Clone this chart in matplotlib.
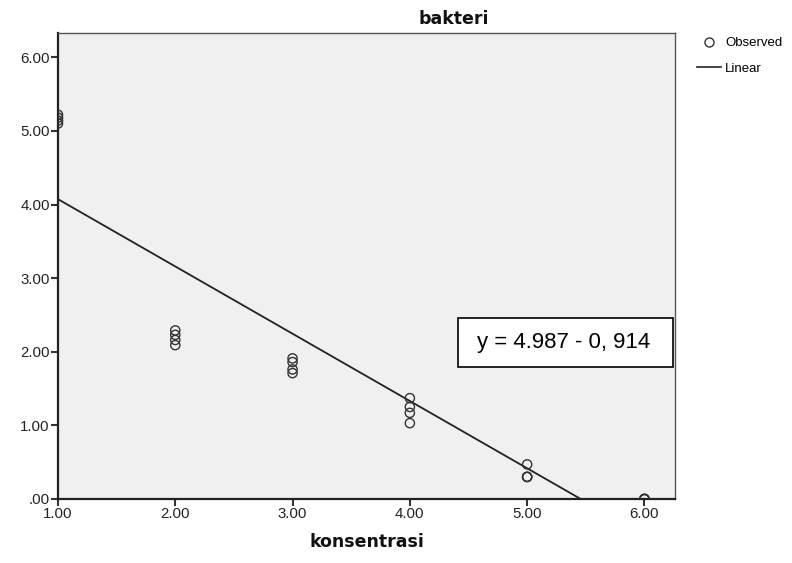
import numpy as np
import matplotlib
matplotlib.use("Agg")
import matplotlib.pyplot as plt
from matplotlib.lines import Line2D
from matplotlib.patches import Rectangle

konsentrasi = [1, 1, 1, 1, 2, 2, 2, 2, 3, 3, 3, 3, 4, 4, 4, 4, 5, 5, 5, 5, 6, 6, 6, 6]
bakteri = [5.22, 5.18, 5.14, 5.10,
           2.29, 2.23, 2.16, 2.09,
           1.91, 1.86, 1.76, 1.71,
           1.37, 1.25, 1.17, 1.03,
           0.47, 0.30, 0.30, 0.30,
           0.00, 0.00, 0.00, 0.00]

# linear fit
intercept = 4.987
slope = -0.914

x_ticks = [1, 2, 3, 4, 5, 6]
y_ticks = [0, 1, 2, 3, 4, 5, 6]
x_tick_labels = ["1.00", "2.00", "3.00", "4.00", "5.00", "6.00"]
y_tick_labels = [".00", "1.00", "2.00", "3.00", "4.00", "5.00", "6.00"]

EQ_TEXT = "y = 4.987 - 0, 914"

FONT = "Liberation Sans"
DARK = "#333333"


def main():
    fig = plt.figure(figsize=(7.92, 5.63), dpi=100)
    ax = fig.add_axes([0.0732, 0.1137, 0.779, 0.8277])
    ax.set_facecolor("#f0f0f0")

    ax.scatter(konsentrasi, bakteri, s=44, facecolors="none",
               edgecolors=DARK, linewidths=1.0, zorder=3)

    xs = np.array([1.0, 6.26])
    ax.plot(xs, intercept + slope * xs, color="#222222", lw=1.3, zorder=2)

    ax.set_xlim(1, 6.26)
    ax.set_ylim(0, 6.33)

    ax.set_xticks(x_ticks)
    ax.set_xticklabels(x_tick_labels, fontfamily=FONT, fontsize=10.8)
    ax.set_yticks(y_ticks)
    ax.set_yticklabels(y_tick_labels, fontfamily=FONT, fontsize=10.8)
    ax.tick_params(direction="out", length=5, width=1.5, color=DARK, pad=1,
                   labelcolor="#222222")

    for s in ax.spines.values():
        s.set_color("#555555")
        s.set_linewidth(1.0)
    for s in ("left", "bottom"):
        ax.spines[s].set_color("#222222")
        ax.spines[s].set_linewidth(1.6)

    # equation box
    ax.add_patch(Rectangle((4.407, 1.79), 1.84, 0.666, facecolor="white",
                           edgecolor="black", lw=1.2, zorder=4))
    ax.text(5.314, 2.123, EQ_TEXT, ha="center", va="center",
            fontfamily=FONT, fontsize=16, zorder=5)

    fig.text(0.573, 0.967, "bakteri", ha="center", va="center",
             fontweight="bold", fontsize=12.5, color="#111111")
    fig.text(0.463, 0.037, "konsentrasi", ha="center", va="center",
             fontweight="bold", fontsize=12.5, color="#111111")

    handles = [
        Line2D([], [], marker="o", ls="none", mfc="none", mec=DARK, ms=6.5, mew=1),
        Line2D([], [], color="#222222", lw=1.2),
    ]
    fig.legend(handles, ["Observed", "Linear"], loc="upper left",
               bbox_to_anchor=(0.872, 0.946), frameon=False,
               prop={"family": FONT, "size": 9.5}, handlelength=1.8,
               handletextpad=0.3, labelspacing=1.0, borderpad=0)

    fig.savefig("out.png", dpi=100)


if __name__ == "__main__":
    main()
